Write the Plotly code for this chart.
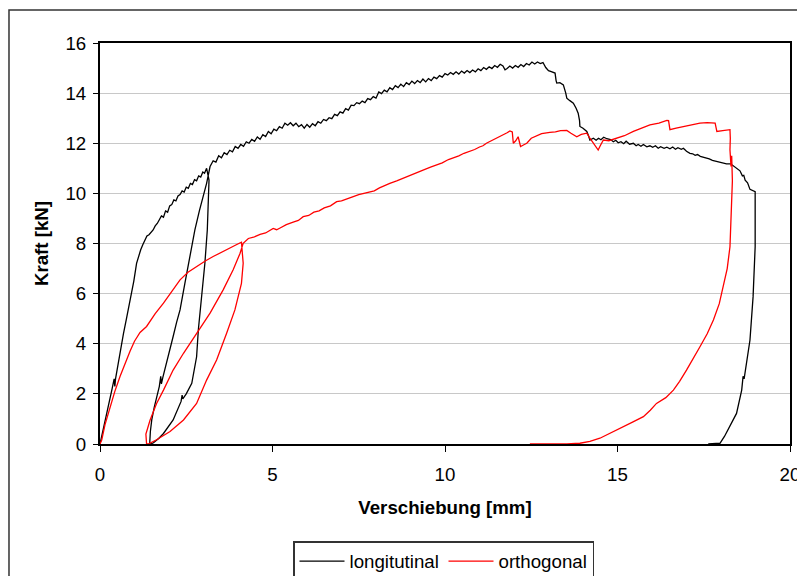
import plotly.graph_objects as go

# ---------------- data (Verschiebung [mm], Kraft [kN]) ----------------
long_loading = [(0, 0), (0.05, 0.3), (0.12, 0.8), (0.2, 1.3), (0.28, 1.8), (0.35, 2.2), (0.41, 2.6),
                (0.43, 2.3), (0.45, 2.6), (0.52, 3.2), (0.6, 3.8), (0.68, 4.4), (0.76, 4.95), (0.84, 5.5),
                (0.92, 6.1), (0.98, 6.5), (1.06, 7.21), (1.12, 7.5), (1.18, 7.75), (1.24, 7.95), (1.30, 8.14),
                (1.36, 8.3), (1.42, 8.35), (1.48, 8.45), (1.54, 8.54), (1.60, 8.7), (1.66, 8.8), (1.72, 8.95),
                (1.78, 9.1), (1.84, 9.05), (1.90, 9.3), (1.96, 9.25), (2.02, 9.5), (2.08, 9.55), (2.14, 9.74),
                (2.2, 9.7), (2.26, 9.9), (2.32, 9.95), (2.38, 10.1), (2.44, 10.05), (2.5, 10.25), (2.56, 10.2),
                (2.62, 10.4), (2.68, 10.35), (2.74, 10.55), (2.8, 10.5), (2.86, 10.7), (2.92, 10.65),
                (2.98, 10.85), (3.03, 10.8), (3.09, 11.0)]
long_unloading1 = [(3.16, 10.53), (3.14, 9.74), (3.11, 8.54), (3.04, 7.21), (2.95, 5.88), (2.85, 4.55),
                   (2.80, 3.48), (2.66, 2.42), (2.5, 2.0), (2.4, 1.8), (2.38, 1.95), (2.35, 1.7),
                   (2.12, 0.96), (1.98, 0.68), (1.84, 0.42), (1.7, 0.22), (1.55, 0.05), (1.47, 0)]
long_reloading = [(1.44, 0), (1.46, 0.5), (1.5, 0.96), (1.57, 1.45), (1.64, 1.89), (1.72, 2.3),
                  (1.76, 2.7), (1.78, 2.4), (1.82, 2.65), (1.93, 3.22), (2.02, 3.75), (2.12, 4.29),
                  (2.22, 4.85), (2.32, 5.35), (2.46, 6.41), (2.61, 7.48), (2.75, 8.54), (2.88, 9.3),
                  (2.99, 9.9), (3.09, 10.4), (3.19, 11.07)]
long_main = [(3.20, 11.1), (3.28, 11.3), (3.36, 11.25), (3.44, 11.5), (3.52, 11.42), (3.60, 11.62),
             (3.68, 11.55), (3.76, 11.72), (3.84, 11.66), (3.92, 11.87), (4.00, 11.8), (4.08, 11.95),
             (4.16, 11.88), (4.24, 12.06), (4.32, 12.0), (4.40, 12.15), (4.48, 12.08), (4.56, 12.25),
             (4.64, 12.16), (4.72, 12.34), (4.80, 12.27), (4.88, 12.47), (4.96, 12.38), (5.04, 12.56),
             (5.12, 12.5), (5.20, 12.66), (5.28, 12.6), (5.36, 12.8), (5.44, 12.72), (5.52, 12.82),
             (5.60, 12.7), (5.68, 12.8), (5.76, 12.66), (5.84, 12.74), (5.92, 12.6), (6.00, 12.75),
             (6.08, 12.64), (6.16, 12.78), (6.24, 12.7), (6.32, 12.86), (6.40, 12.8), (6.48, 12.95),
             (6.56, 12.9), (6.64, 13.02), (6.72, 12.98), (6.80, 13.15), (6.88, 13.1), (6.96, 13.25),
             (7.04, 13.2), (7.12, 13.38), (7.20, 13.32), (7.28, 13.52), (7.36, 13.5), (7.44, 13.62),
             (7.52, 13.58), (7.60, 13.68), (7.68, 13.62), (7.76, 13.78), (7.84, 13.74), (7.92, 13.86),
             (8.00, 13.8), (8.08, 14.05), (8.16, 13.98), (8.24, 14.12), (8.32, 14.05), (8.40, 14.22),
             (8.48, 14.14), (8.56, 14.3), (8.64, 14.22), (8.72, 14.36), (8.80, 14.26), (8.88, 14.42),
             (8.96, 14.34), (9.04, 14.48), (9.12, 14.38), (9.20, 14.5), (9.28, 14.42), (9.36, 14.56),
             (9.44, 14.45), (9.52, 14.58), (9.60, 14.5), (9.68, 14.64), (9.76, 14.58), (9.84, 14.7),
             (9.92, 14.64), (10.00, 14.78), (10.08, 14.72), (10.16, 14.82), (10.24, 14.75), (10.32, 14.85),
             (10.40, 14.76), (10.48, 14.88), (10.56, 14.8), (10.64, 14.9), (10.72, 14.82), (10.80, 14.92),
             (10.88, 14.85), (10.96, 14.97), (11.04, 14.9), (11.12, 15.02), (11.20, 14.95), (11.28, 15.05),
             (11.36, 14.98), (11.44, 15.1), (11.52, 15.03), (11.60, 15.15), (11.68, 15.08), (11.74, 14.93),
             (11.80, 14.98), (11.88, 15.08), (11.96, 15.0), (12.04, 15.1), (12.12, 15.03), (12.20, 15.14),
             (12.28, 15.06), (12.36, 15.18), (12.44, 15.12), (12.52, 15.24), (12.60, 15.16), (12.68, 15.24),
             (12.76, 15.18), (12.84, 15.22), (12.92, 15.02), (13.00, 14.9), (13.08, 14.86), (13.19, 14.8),
             (13.22, 14.5), (13.24, 14.4), (13.33, 14.42), (13.43, 14.33), (13.5, 14.0), (13.53, 13.8),
             (13.62, 13.7), (13.72, 13.6), (13.8, 13.4), (13.86, 13.2), (13.9, 12.9), (13.91, 12.67),
             (14.0, 12.6), (14.11, 12.47), (14.16, 12.3), (14.2, 12.13), (14.3, 12.2), (14.38, 12.12),
             (14.45, 12.2), (14.52, 12.14), (14.6, 12.24), (14.69, 12.18), (14.8, 12.15), (14.88, 12.06),
             (14.95, 12.12), (15.02, 12.02), (15.1, 12.06), (15.18, 11.98), (15.25, 12.08), (15.35, 11.96),
             (15.46, 12.0), (15.54, 11.9), (15.6, 11.95), (15.68, 11.88), (15.75, 11.95), (15.85, 11.86),
             (15.94, 11.9), (16.02, 11.84), (16.1, 11.9), (16.18, 11.8), (16.25, 11.86), (16.35, 11.8),
             (16.43, 11.84), (16.52, 11.78), (16.6, 11.85), (16.68, 11.76), (16.75, 11.82), (16.85, 11.76),
             (16.91, 11.8), (17.0, 11.68), (17.1, 11.6), (17.18, 11.58), (17.25, 11.52), (17.32, 11.55),
             (17.4, 11.48), (17.5, 11.45), (17.58, 11.4), (17.66, 11.38), (17.75, 11.32), (17.82, 11.3),
             (17.9, 11.26), (18.0, 11.24), (18.08, 11.2), (18.16, 11.18), (18.28, 11.18), (18.36, 11.1),
             (18.45, 11.0), (18.55, 10.9), (18.62, 10.7), (18.66, 10.72), (18.7, 10.53), (18.77, 10.42),
             (18.84, 10.16), (18.92, 10.1), (18.99, 10.07)]
long_unloading2 = [(18.99, 7.87), (18.93, 5.88), (18.84, 4.15), (18.74, 3.22), (18.67, 2.6),
                   (18.64, 2.7), (18.6, 2.15), (18.45, 1.22), (18.26, 0.69), (18.1, 0.3), (17.97, 0.03),
                   (17.8, 0), (17.63, 0)]

orth_loading = [(0, 0), (0.05, 0.16), (0.15, 0.8), (0.29, 1.49), (0.43, 2.1), (0.58, 2.69),
                (0.72, 3.2), (0.87, 3.7), (1.0, 4.1), (1.16, 4.45), (1.35, 4.69), (1.6, 5.2),
                (1.84, 5.62), (2.08, 6.1), (2.32, 6.55), (2.55, 6.85), (2.80, 7.08), (3.05, 7.3),
                (3.28, 7.48), (3.52, 7.66), (3.77, 7.83), (3.95, 7.95), (4.1, 8.05)]
orth_unloading1 = [(4.15, 7.21), (4.1, 6.41), (3.91, 5.35), (3.67, 4.42), (3.38, 3.35), (3.09, 2.55),
                   (2.80, 1.62), (2.42, 0.96), (2.03, 0.5), (1.64, 0.17), (1.4, 0)]
orth_reloading = [(1.35, 0), (1.33, 0.4), (1.45, 0.95), (1.64, 1.62), (1.84, 2.15), (2.12, 2.95),
                  (2.42, 3.62), (2.80, 4.42), (3.19, 5.22), (3.57, 6.15), (3.86, 6.95), (4.06, 7.61),
                  (4.15, 8.01)]
orth_main = [(4.3, 8.2), (4.45, 8.25), (4.64, 8.36), (4.8, 8.42), (5.02, 8.6), (5.12, 8.55), (5.22, 8.62),
             (5.4, 8.75), (5.6, 8.85), (5.75, 8.92), (5.89, 9.07), (6.05, 9.12), (6.2, 9.25), (6.35, 9.3),
             (6.5, 9.42), (6.68, 9.5), (6.86, 9.67), (7.0, 9.7), (7.2, 9.8), (7.35, 9.88), (7.5, 9.95),
             (7.65, 10.0), (7.83, 10.07), (7.95, 10.1), (8.1, 10.22), (8.25, 10.32), (8.4, 10.4),
             (8.6, 10.5), (8.79, 10.6), (8.95, 10.7), (9.1, 10.78), (9.25, 10.85), (9.4, 10.95),
             (9.58, 11.05), (9.75, 11.13), (9.92, 11.22), (10.1, 11.35), (10.25, 11.42), (10.4, 11.5),
             (10.55, 11.6), (10.72, 11.67), (10.86, 11.75), (11.0, 11.85), (11.1, 11.9), (11.2, 12.0),
             (11.35, 12.1), (11.5, 12.2), (11.6, 12.28), (11.7, 12.35), (11.8, 12.42), (11.88, 12.49),
             (11.95, 12.45), (11.98, 12.0), (12.05, 12.1), (12.12, 12.26), (12.19, 11.87), (12.3, 11.95),
             (12.37, 12.0), (12.5, 12.2), (12.66, 12.3), (12.8, 12.38), (13.04, 12.43), (13.2, 12.45),
             (13.35, 12.5), (13.53, 12.51), (13.65, 12.4), (13.82, 12.26), (13.95, 12.35), (14.11, 12.4),
             (14.2, 12.2), (14.3, 12.0), (14.44, 11.73), (14.5, 11.9), (14.59, 12.13), (14.75, 12.1),
             (14.98, 12.2), (15.2, 12.3), (15.46, 12.47), (15.7, 12.6), (15.94, 12.73), (16.2, 12.8),
             (16.43, 12.91), (16.48, 12.9), (16.52, 12.54), (16.7, 12.6), (16.91, 12.67), (17.15, 12.72),
             (17.39, 12.8), (17.6, 12.82), (17.83, 12.8), (17.86, 12.6), (17.88, 12.47), (18.05, 12.5),
             (18.26, 12.54), (18.27, 12.2), (18.26, 11.74), (18.29, 11.07), (18.31, 11.5), (18.33, 10.5),
             (18.31, 9.74), (18.3, 9.2)]
orth_unloading2 = [(18.26, 7.87), (18.18, 7.0), (18.07, 6.28), (17.95, 5.6), (17.78, 4.95), (17.6, 4.4),
                   (17.39, 3.88), (17.2, 3.4), (17.0, 2.95), (16.8, 2.5), (16.62, 2.15), (16.4, 1.85),
                   (16.13, 1.62), (15.95, 1.35), (15.75, 1.09), (15.45, 0.88), (15.17, 0.69),
                   (14.85, 0.45), (14.49, 0.23), (14.2, 0.1), (13.91, 0.03), (13.53, 0), (13.0, 0),
                   (12.46, 0)]

series_names = ["longitutinal", "orthogonal"]
series_colors = ["#000000", "#ff0000"]
x_ticks = [0, 5, 10, 15, 20]
y_ticks = [0, 2, 4, 6, 8, 10, 12, 14, 16]

long_pts = long_loading + long_unloading1 + long_reloading + long_main + long_unloading2
orth_pts = orth_loading + orth_unloading1 + orth_reloading + orth_main + orth_unloading2

FONT = "Liberation Sans, Arial, sans-serif"
FS = 18.7

fig = go.Figure()
for name, color, pts in zip(series_names, series_colors, [long_pts, orth_pts]):
    fig.add_trace(go.Scatter(
        x=[p[0] for p in pts], y=[p[1] for p in pts],
        mode="lines", name=name,
        line=dict(color=color, width=1.3),
    ))

# outer chart-area frame (extends past the right and bottom edges like the reference)
fig.add_shape(type="rect", xref="paper", yref="paper",
              x0=-0.1319, x1=1.03, y0=-0.36, y1=1.0823,
              line=dict(color="#333333", width=1.5), layer="below")

# the page body has an 8px margin, so the figure is sized/offset to compensate
fig.update_layout(
    width=797, height=568, autosize=False,
    margin=dict(l=92, r=15, t=35, b=132, autoexpand=False),
    paper_bgcolor="white", plot_bgcolor="white",
    font=dict(family=FONT, size=FS, color="black"),
    showlegend=True,
    legend=dict(orientation="h", x=(293 - 100) / 690, xanchor="left", y=-0.2419, yanchor="top",
                bordercolor="#333333", borderwidth=1.5, bgcolor="white",
                font=dict(family=FONT, size=FS, color="black"),
                itemwidth=45, entrywidth=89, entrywidthmode="pixels", tracegroupgap=0),
    xaxis=dict(range=[0, 20], tickvals=x_ticks, ticks="outside", ticklen=6, tickwidth=1,
               tickcolor="black", showgrid=False, zeroline=False, automargin=False,
               showline=True, linecolor="black", linewidth=2, mirror=True,
               tickfont=dict(family=FONT, size=FS), ticklabelstandoff=7,
               title=dict(text="Verschiebung [mm]", standoff=16,
                          font=dict(family=FONT, size=FS, weight="bold"))),
    yaxis=dict(range=[0, 16], tickvals=y_ticks, ticks="outside", ticklen=5, tickwidth=1,
               tickcolor="black", showgrid=True, gridcolor="#c8c8c8", gridwidth=1,
               zeroline=False, showline=True, linecolor="black", linewidth=2, mirror=True,
               automargin=False,
               tickfont=dict(family=FONT, size=FS), ticklabelstandoff=3,
               title=dict(text="Kraft [kN]", standoff=12,
                          font=dict(family=FONT, size=FS, weight="bold"))),
)

fig.write_html("out.html")
